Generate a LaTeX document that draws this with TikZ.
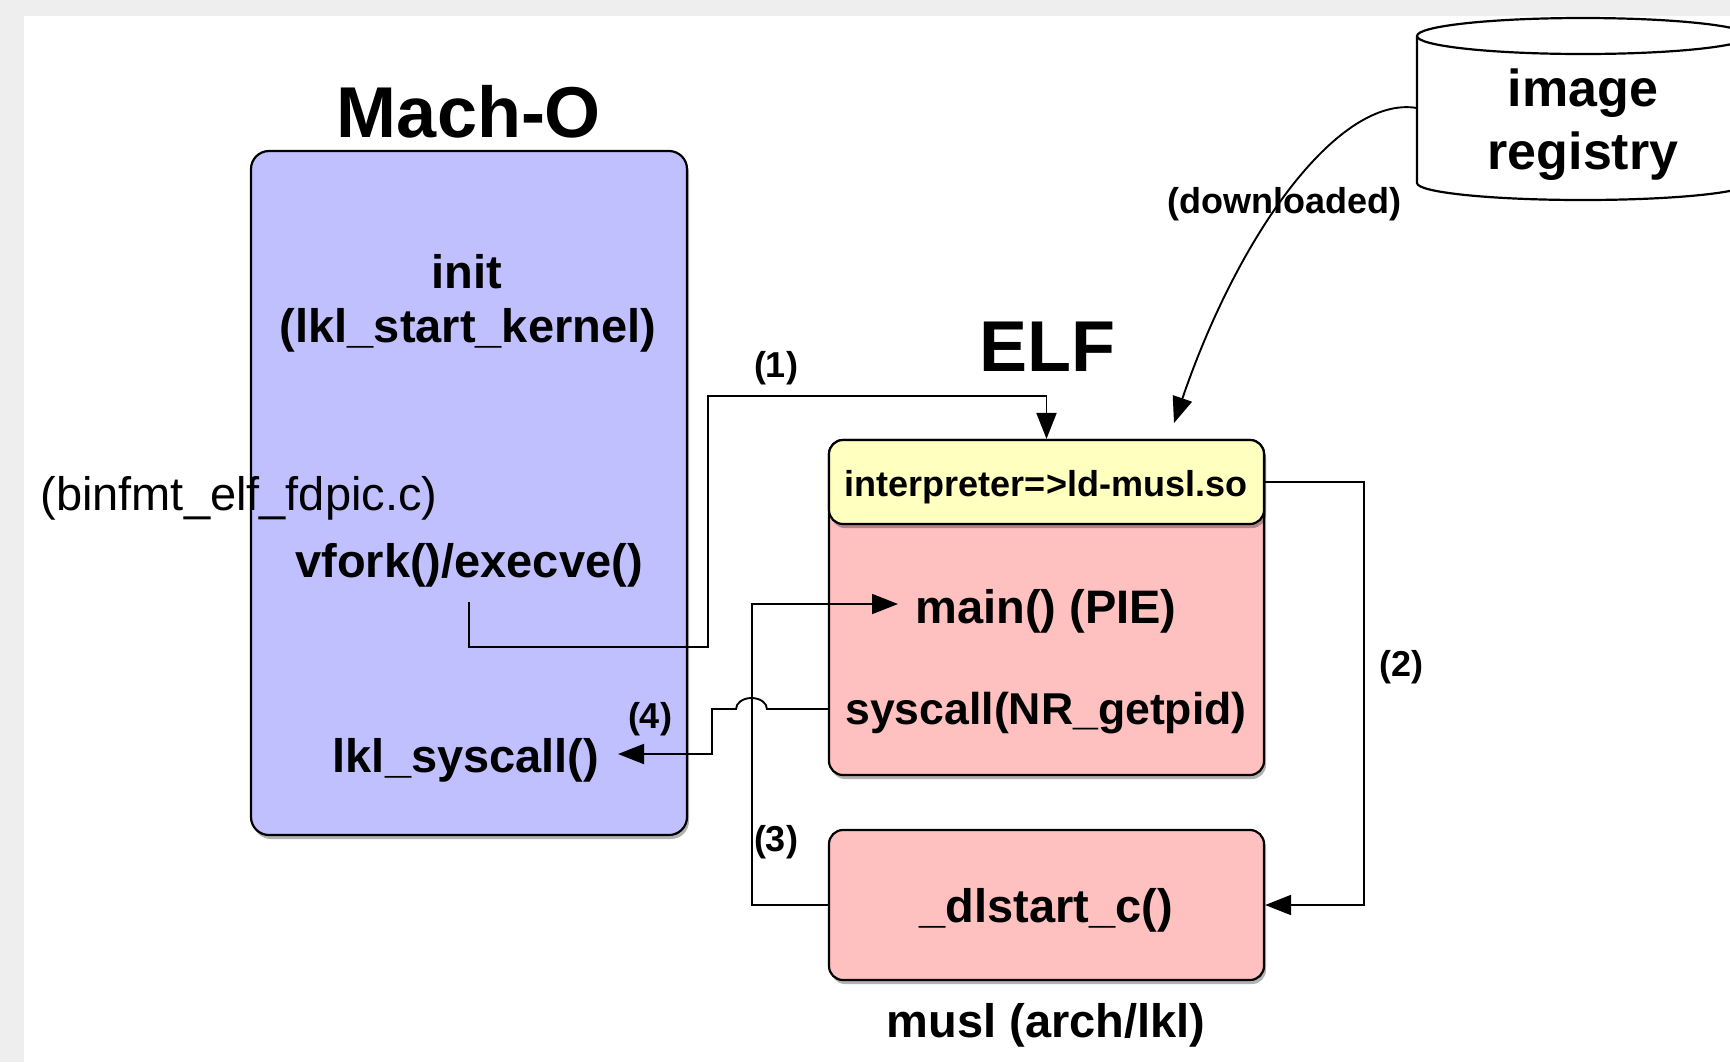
\documentclass[tikz,border=0pt]{standalone}
\usepackage{fontspec}
\setmainfont{Liberation Sans}
\usetikzlibrary{arrows.meta,shadows}

\definecolor{sheetgray}{HTML}{EEEEEE}
\definecolor{machofill}{HTML}{C0C0FF}
\definecolor{elffill}{HTML}{FFC0C0}
\definecolor{hdrfill}{HTML}{FFFFC0}

\begin{document}
\begin{tikzpicture}[x=0.5pt,y=-0.5pt,
  box/.style={draw=black, line width=1.1pt, rounded corners=7pt, inner sep=0pt,
    drop shadow={shadow xshift=1pt, shadow yshift=-2pt, opacity=0.3, fill=black}},
  conn/.style={draw=black, line width=0.95pt, -{Triangle[length=13pt,width=10pt]}},
  lbl/.style={font=\bfseries\fontsize{23.5}{27}\selectfont, inner sep=0pt, anchor=base},
  small/.style={font=\bfseries\fontsize{18}{21}\selectfont, inner sep=0pt, anchor=base},
  title/.style={font=\bfseries\fontsize{36}{40}\selectfont, inner sep=0pt, anchor=base},
  dbtext/.style={font=\bfseries\fontsize{26}{30}\selectfont, inner sep=0pt, anchor=base},
]
\useasboundingbox (0,0) rectangle (1730,1062);

% sheet
\fill[sheetgray] (0,0) rectangle (1730,1062);
\fill[white] (24,16) rectangle (1730,1062);

% boxes
\node[box, fill=machofill, rounded corners=9pt, minimum width=218pt, minimum height=342pt] (macho) at (469,493) {};
\node[box, fill=elffill, minimum width=217.5pt, minimum height=167.5pt] (elf) at (1046.5,607.5) {};
\node[box, fill=hdrfill, minimum width=217.5pt, minimum height=42pt] (elfhdr) at (1046.5,482) {};
\node[box, fill=elffill, minimum width=217.5pt, minimum height=75pt] (dlstart) at (1046.5,905) {};

% image registry cylinder
\draw[fill=white, line width=1.1pt]
  (1417,36) -- (1417,183)
  .. controls (1417,192.39) and (1491.3,200) .. (1583,200)
  .. controls (1674.7,200) and (1749,192.39) .. (1749,183)
  -- (1749,36)
  .. controls (1749,26.06) and (1674.7,18) .. (1583,18)
  .. controls (1491.3,18) and (1417,26.06) .. (1417,36) -- cycle;
\draw[line width=1.1pt]
  (1417,36) .. controls (1417,45.94) and (1491.3,54) .. (1583,54)
  .. controls (1674.7,54) and (1749,45.94) .. (1749,36);
\node[dbtext] (img) at (1583,106) {image};
\node[dbtext] (reg) at (1583,169) {registry};

% texts
\node[title] (machotitle) at (469,137) {Mach-O};
\node[lbl] (init) at (467,288) {init};
\node[lbl] (kernel) at (468,342) {(lkl\_start\_kernel)};
\node[font=\fontsize{23.5}{27}\selectfont, inner sep=0pt, anchor=base west] (binfmt) at (40,510) {(binfmt\_elf\_fdpic.c)};
\node[lbl] (vfork) at (469,577) {vfork()/execve()};
\node[lbl] (lklsys) at (466,772) {lkl\_syscall()};
\node[title] (elftitle) at (1047,371) {ELF};
\node[small] (interp) at (1046,496) {interpreter=>ld-musl.so};
\node[lbl, anchor=base west] (mainfn) at (915,623) {main() (PIE)};
\node[lbl, font=\bfseries\fontsize{22.3}{26}\selectfont] (sys) at (1046,724) {syscall(NR\_getpid)};
\node[lbl] (dlc) at (1046,922) {\_dlstart\_c()};
\node[lbl] (musl) at (1046,1037) {musl (arch/lkl)};
\node[small] (l1) at (776,377) {(1)};
\node[small] (l2) at (1401,676) {(2)};
\node[small] (l3) at (776,851) {(3)};
\node[small] (l4) at (650,728) {(4)};
\node[small] (dl) at (1284,213) {(downloaded)};

% connector end points
\coordinate (vforkout) at (469,602);
\coordinate (mainin) at (898,604);
\coordinate (sysout) at (829,709);
\coordinate (lklin) at (618,754);
\coordinate (regout) at (1417,108);
\coordinate (elfin) at (1174,423);

% (1) exec of the ELF
\draw[conn] (vforkout) |- (708,647) -- (708,396) -| (elfhdr.north);
% (2) interpreter
\draw[conn] (elfhdr.east) -- (1364,482) |- (dlstart.east);
% (3) jump to main
\draw[conn] (dlstart.west) -| (752,604) -- (mainin);
% (4) syscall redirected, hopping over (3)
\draw[conn] (sysout) -- (767,709)
  .. controls (767,702.9) and (760.1,698) .. (751.5,698)
  .. controls (742.9,698) and (736,702.9) .. (736,709)
  -- (712,709) |- (lklin);
% download from the registry
\draw[conn] (regout) .. controls (1340,95) and (1240,230) .. (elfin);
\end{tikzpicture}
\end{document}
